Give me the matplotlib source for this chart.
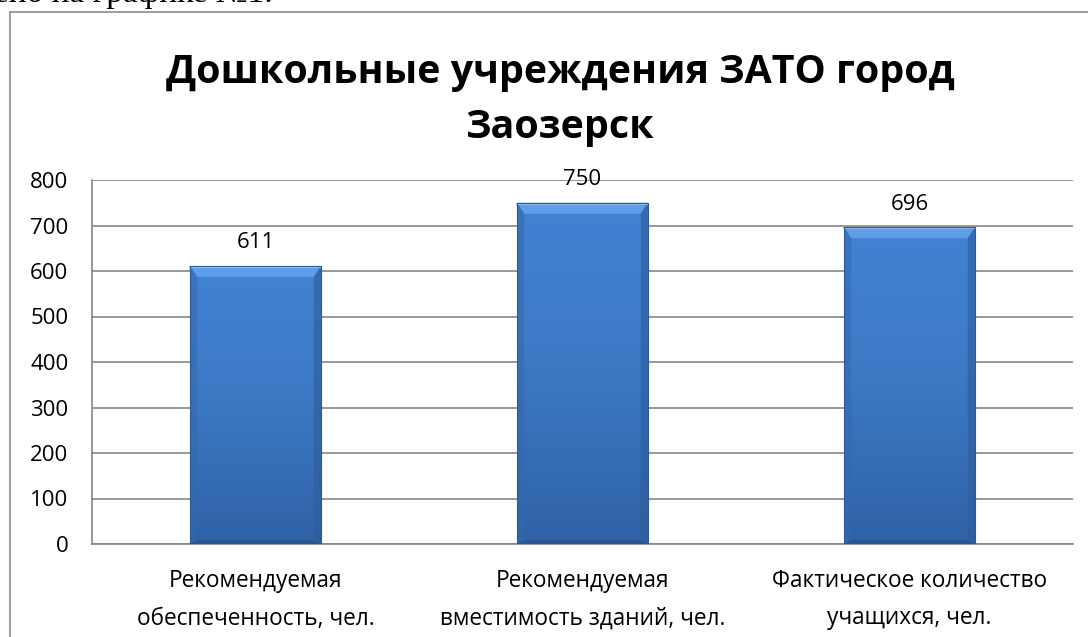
import matplotlib
matplotlib.use("Agg")
import matplotlib.pyplot as plt
import numpy as np
from matplotlib.patches import Rectangle, Polygon
from matplotlib.colors import LinearSegmentedColormap

categories = ["Рекомендуемая\nобеспеченность, чел.",
              "Рекомендуемая\nвместимость зданий, чел.",
              "Фактическое количество\nучащихся, чел."]
values = [611, 750, 696]
yticks = [0, 100, 200, 300, 400, 500, 600, 700, 800]
title = "Дошкольные учреждения ЗАТО город\nЗаозерск"

W, H = 1088, 637
fig = plt.figure(figsize=(W / 100, H / 100), dpi=100)
plt.rcParams['font.family'] = ['Open Sans', 'DejaVu Sans']

# chart border
fig.patches.append(Rectangle((10 / W, -0.01), 1.2, 1 - 12 / H + 0.01, transform=fig.transFigure,
                             fill=False, edgecolor='#8c8c8c', linewidth=1.2))
# cut text fragment above chart
fig.text(-6 / W, 1 - 2 / H, "ено на графике №1.", family='Liberation Serif', fontsize=24,
         va='baseline', ha='left', color='black')

ax = fig.add_axes([92 / W, 1 - 544 / H, (1073 - 92) / W, (544 - 180) / H])
ymax = 800
px = ymax / 364.0  # data units per pixel
x = np.arange(len(values))
bars = ax.bar(x, values, width=0.40, color='#3C78C3', zorder=3, linewidth=0)

grad = np.linspace(0, 1, 256).reshape(-1, 1)
cmap = LinearSegmentedColormap.from_list('b', ['#2F62A6', '#3871BA', '#3F7DCB', '#4282D2'])
bevel = 11 * px
for b in bars:
    bx, by, bw, bh = b.get_x(), b.get_y(), b.get_width(), b.get_height()
    im = ax.imshow(grad, extent=[bx, bx + bw, by, by + bh], origin='lower', aspect='auto',
                   cmap=cmap, zorder=4)
    im.set_clip_path(b)
    dx = bw * 0.055
    top = by + bh
    ax.add_patch(Polygon([[bx, top], [bx + bw, top], [bx + bw - dx, top - bevel], [bx + dx, top - bevel]],
                         closed=True, color='#5E9DE8', lw=0, zorder=5))
    ax.plot([bx, bx + bw], [top - 0.8 * px, top - 0.8 * px], color='#8EC0F4', lw=1.5, zorder=6)
    ax.add_patch(Polygon([[bx, top], [bx + dx, top - bevel], [bx + dx, by + 4 * px], [bx, by]],
                         closed=True, color='#3468AE', alpha=0.55, lw=0, zorder=5))
    ax.add_patch(Polygon([[bx + bw, top], [bx + bw - dx, top - bevel], [bx + bw - dx, by + 4 * px], [bx + bw, by]],
                         closed=True, color='#2D5C9C', alpha=0.6, lw=0, zorder=5))
    ax.add_patch(Polygon([[bx, by], [bx + dx, by + 4 * px], [bx + bw - dx, by + 4 * px], [bx + bw, by]],
                         closed=True, color='#27518C', alpha=0.7, lw=0, zorder=5))
    ax.add_patch(Rectangle((bx, by), bw, bh, fill=False, edgecolor='#2A5A98', lw=0.8, zorder=6))

for xi, v in zip(x, values):
    ax.annotate(str(v), (xi, v), xytext=(0, 9), textcoords='offset points',
                ha='center', va='bottom', fontsize=16, zorder=7)

ax.set_xlim(-0.5, len(values) - 0.5)
ax.set_ylim(0, ymax)
ax.set_yticks(yticks)
ax.set_yticklabels([str(t) for t in yticks], fontsize=16)
ax.set_xticks(x)
ax.set_xticklabels(categories, fontsize=16.3, linespacing=1.75)
ax.yaxis.grid(True, color='#868686', linewidth=1.2, zorder=0)
ax.set_axisbelow(True)
for s in ['top', 'right']:
    ax.spines[s].set_visible(False)
for s in ['left', 'bottom']:
    ax.spines[s].set_color('#868686')
    ax.spines[s].set_linewidth(1.2)
ax.tick_params(axis='y', length=0, pad=17)
ax.tick_params(axis='x', length=0, pad=18)

fig.text(560 / W, 1 - 100 / H, title, ha='center', va='center', fontsize=28.4,
         fontweight='bold', linespacing=1.55)

fig.savefig("out.png", dpi=100)
